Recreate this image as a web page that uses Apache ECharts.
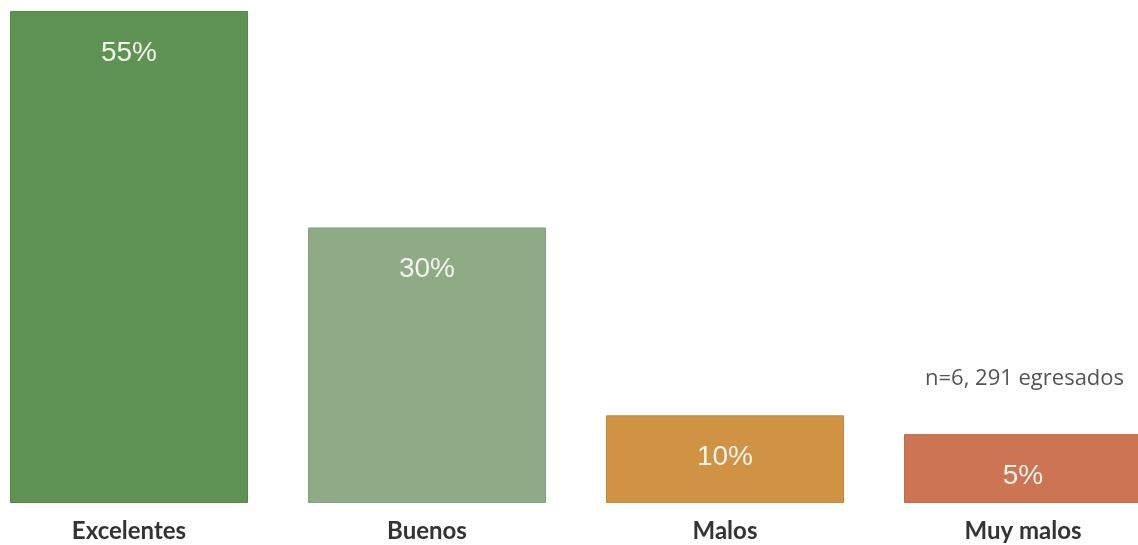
<!DOCTYPE html>
<html>
<head>
<meta charset="utf-8">
<script src="https://cdn.jsdelivr.net/npm/echarts@6/dist/echarts.min.js"></script>
<style>
  html, body { margin: 0; padding: 0; background: #fff; overflow: hidden; }
  #chart { width: 1192px; height: 545px; margin-left: -20px; }
</style>
</head>
<body>
<div id="chart"></div>
<script>
// categorias y valores
var categories = ['Excelentes', 'Buenos', 'Malos', 'Muy malos'];
var pctLabels = ['55%', '30%', '10%', '5%'];
// altura de barra como se ve en la imagen (escala en %)
var barValues = [55, 30.8, 9.8, 7.7];
var barColors = ['#5f9354', '#8fab86', '#d09343', '#cd7552'];
var borderColors = ['#548a49', '#84a27b', '#c58838', '#c26a47'];
var noteText = 'n=6, 291 egresados';

var chart = echarts.init(document.getElementById('chart'));

var seriesData = [];
for (var i = 0; i < barValues.length; i++) {
    seriesData.push({
        value: barValues[i],
        itemStyle: { color: barColors[i], borderColor: borderColors[i], borderWidth: 1 },
        label: { formatter: pctLabels[i] }
    });
}

var option = {
    animation: false,
    grid: { left: 0, right: 0, top: 2, bottom: 42 },
    xAxis: {
        type: 'category',
        data: categories,
        axisLine: { show: false },
        axisTick: { show: false },
        axisLabel: {
            margin: 16,
            fontSize: 24,
            fontFamily: 'Lato',
            fontWeight: 'bold',
            color: '#333'
        }
    },
    yAxis: {
        type: 'value',
        min: 0,
        max: 56,
        show: false
    },
    series: [{
        type: 'bar',
        barWidth: 238,
        data: seriesData,
        label: {
            show: true,
            position: 'insideTop',
            distance: 28,
            fontSize: 28,
            fontFamily: 'Liberation Sans',
            color: '#f4f4ee'
        }
    }],
    graphic: [{
        type: 'text',
        left: 945,
        top: 368,
        style: {
            text: noteText,
            fontSize: 22,
            fontFamily: 'Open Sans',
            fill: '#555'
        }
    }]
};
chart.setOption(option);
</script>
</body>
</html>
